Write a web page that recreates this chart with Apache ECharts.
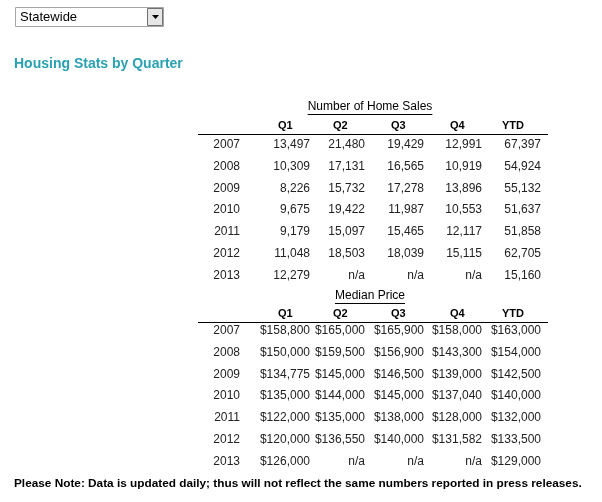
<!DOCTYPE html>
<html>
<head>
<meta charset="utf-8">
<script src="https://cdn.jsdelivr.net/npm/echarts@6/dist/echarts.min.js"></script>
<style>
html,body{margin:0;padding:0;background:#fff}
#main{width:602px;height:502px}
</style>
</head>
<body>
<div id="main"></div>
<script>
var years = ['2007','2008','2009','2010','2011','2012','2013']
var columns = ['Q1','Q2','Q3','Q4','YTD']
var sales = [
  ['13,497','21,480','19,429','12,991','67,397'],
  ['10,309','17,131','16,565','10,919','54,924'],
  ['8,226','15,732','17,278','13,896','55,132'],
  ['9,675','19,422','11,987','10,553','51,637'],
  ['9,179','15,097','15,465','12,117','51,858'],
  ['11,048','18,503','18,039','15,115','62,705'],
  ['12,279','n/a','n/a','n/a','15,160']
]
var prices = [
  ['$158,800','$165,000','$165,900','$158,000','$163,000'],
  ['$150,000','$159,500','$156,900','$143,300','$154,000'],
  ['$134,775','$145,000','$146,500','$139,000','$142,500'],
  ['$135,000','$144,000','$145,000','$137,040','$140,000'],
  ['$122,000','$135,000','$138,000','$128,000','$132,000'],
  ['$120,000','$136,550','$140,000','$131,582','$133,500'],
  ['$126,000','n/a','n/a','n/a','$129,000']
]

var font = 'Liberation Sans, Arial, sans-serif'
var colRight = [310, 365, 424, 482, 541]
var headLeft = [278, 333, 391, 450, 502]
var els = []
var ctx = document.createElement('canvas').getContext('2d')

function txt(x, y, s, opt) {
  opt = opt || {}
  els.push({
    type: 'text', x: x, y: y,
    style: {
      text: s, fill: opt.fill || '#000', font: (opt.bold ? 'bold ' : '') + (opt.size || 12) + 'px ' + font,
      textAlign: opt.align || 'left', textVerticalAlign: 'middle'
    }
  })
}

function table(title, rows, top, headOff, rowOff) {
  txt(370, top, title, {align: 'center'})
  ctx.font = '12px ' + font
  var w = ctx.measureText(title).width
  els.push({type: 'rect', shape: {x: 370 - w / 2, y: top + 7, width: w, height: 1}, style: {fill: '#000'}})
  columns.forEach((c, i) => txt(headLeft[i], top + headOff, c, {bold: true, size: 11}))
  els.push({type: 'rect', shape: {x: 198, y: top + headOff + 8, width: 350, height: 1}, style: {fill: '#000'}})
  rows.forEach((r, j) => {
    var y = top + rowOff + j * 21.7
    txt(240, y, years[j], {align: 'right', fill: '#222'})
    r.forEach((v, i) => txt(colRight[i], y, v, {align: 'right', fill: '#222'}))
  })
}

// dropdown
els.push({type: 'rect', shape: {x: 15.5, y: 7.5, width: 148, height: 19}, style: {fill: '#fff', stroke: '#a5a5a5'}})
els.push({type: 'rect', shape: {x: 147.5, y: 8.5, width: 15, height: 17}, style: {fill: '#e6e6e6', stroke: '#707070'}})
els.push({type: 'polygon', shape: {points: [[152, 15], [159, 15], [155.5, 19]]}, style: {fill: '#000'}})
txt(20, 17.5, 'Statewide', {size: 13})

txt(14, 64, 'Housing Stats by Quarter', {bold: true, size: 14, fill: '#2aa1b3'})

table('Number of Home Sales', sales, 107, 19, 38)
table('Median Price', prices, 296, 18, 35)

txt(14, 484, 'Please Note: Data is updated daily; thus will not reflect the same numbers reported in press releases.', {bold: true, size: 11.8})

var chart = echarts.init(document.getElementById('main'))
chart.setOption({animation: false, graphic: {elements: els}})
</script>
</body>
</html>
